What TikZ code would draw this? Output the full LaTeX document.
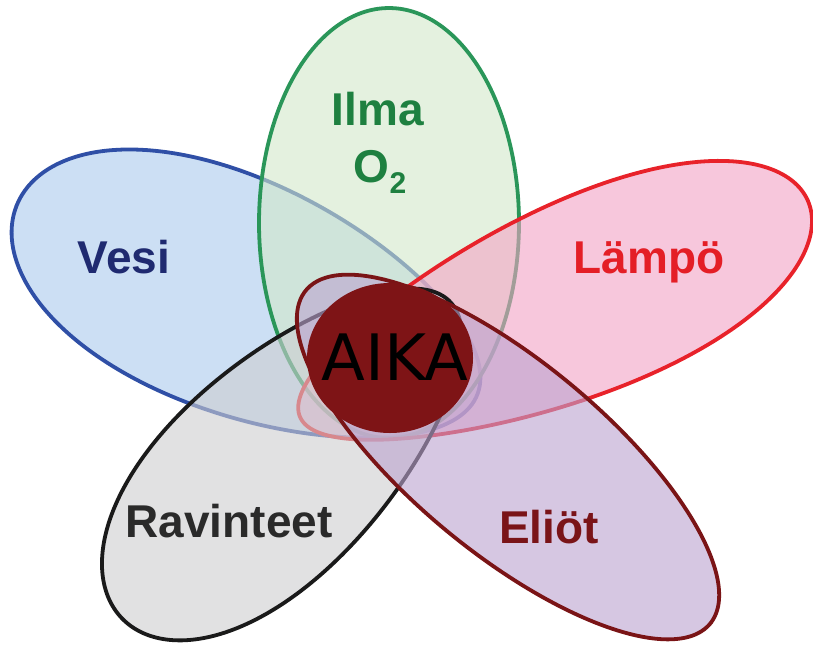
\documentclass[tikz,border=0pt]{standalone}
\usepackage{fontspec}
\setmainfont{Liberation Sans}
\newfontfamily\aikafont{DejaVu Sans}
\usetikzlibrary{shapes.geometric}

\definecolor{vesiline}{HTML}{2F4FA6}
\definecolor{vesifill}{HTML}{AACBED}
\definecolor{vesitext}{HTML}{1F2A70}
\definecolor{ilmaline}{HTML}{2A9659}
\definecolor{ilmafill}{HTML}{D2E8CA}
\definecolor{ilmatext}{HTML}{1E8040}
\definecolor{lampoline}{HTML}{E8222A}
\definecolor{lampofill}{HTML}{F3A3C5}
\definecolor{lampotext}{HTML}{E41E26}
\definecolor{ravline}{HTML}{1A1A1A}
\definecolor{ravfill}{HTML}{CDCDD0}
\definecolor{ravtext}{HTML}{2A2A2A}
\definecolor{elioline}{HTML}{7A1416}
\definecolor{eliofill}{HTML}{BCA3CF}
\definecolor{eliotext}{HTML}{7A1418}
\definecolor{aikafill}{HTML}{7E1416}

% egg-shaped petal: centre, outward angle, half length, half width, egg factor
\newcommand{\petal}[7]{%
  \draw[line width=3.8pt, draw=#6, fill=#7, fill opacity=0.6,
        shift={#1}, rotate=#2]
    plot[domain=0:360, samples=150, smooth cycle]
      ({#3*cos(\x)}, {#4*sin(\x)*(1+#5*cos(\x))});
}

\begin{document}
\begin{tikzpicture}[x=1pt, y=-1pt,
  lbl/.style={font=\fontsize{46}{46}\selectfont\bfseries, anchor=base, inner sep=0pt}]
\useasboundingbox (0,0) rectangle (813,646);
\fill[white] (0,0) rectangle (813,646);

% petals, back to front
\petal{(247,300)}{157.5}{249}{117}{0.12}{vesiline}{vesifill}
\petal{(389,223)}{90}{215}{130}{0.0}{ilmaline}{ilmafill}
\petal{(554,309)}{23}{276}{96}{0.2}{lampoline}{lampofill}
\petal{(286,460)}{224}{228}{106}{0.15}{ravline}{ravfill}
\petal{(508,457)}{-39.5}{262}{96}{0.0}{elioline}{eliofill}

% centre
\node[ellipse, fill=aikafill, minimum width=166pt, minimum height=150pt,
      inner sep=0pt] (aika) at (390,358) {};
\node[font=\aikafont\fontsize{64}{64}\selectfont, anchor=base, inner sep=0pt]
  (aikatext) at (395,380) {AIKA};

% labels
\node[lbl, text=ilmatext] (ilma) at (378,125) {Ilma};
\node[lbl, text=ilmatext] (o2) at (380,182)
  {O\raisebox{-11pt}{\fontsize{30}{30}\selectfont 2}};
\node[lbl, text=vesitext] (vesi) at (124,273) {Vesi};
\node[lbl, text=lampotext] (lampo) at (649,273) {Lämpö};
\node[lbl, text=ravtext] (ravinteet) at (229,537) {Ravinteet};
\node[lbl, text=eliotext] (eliot) at (549,543) {Eliöt};
\end{tikzpicture}
\end{document}
